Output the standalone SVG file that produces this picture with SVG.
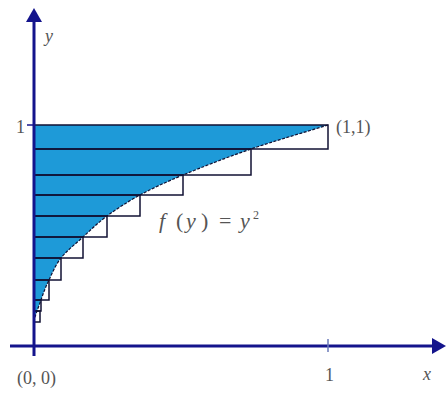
<svg xmlns="http://www.w3.org/2000/svg" width="447" height="393" viewBox="0 0 447 393">
<style>
.rect{fill:none;stroke:#111133;stroke-width:1.5}
.axis{stroke:#14148c;stroke-width:3;fill:none}
.lbl{font-family:'Liberation Serif','Times New Roman',serif;font-size:18px;fill:#555}
.it{font-style:italic}
</style>
<rect width="447" height="393" fill="#fff"/>
<g id="region">
<path d="M34,125 L328,125 C302.33,133 275.17,140.67 251,149 C226.83,157.33 201.5,167.33 183,175 C164.5,182.67 152.67,188.17 140,195 C127.33,201.83 116.5,209 107,216 C97.5,223 90.67,230 83,237 C75.33,244 66.67,250.83 61,258 C55.33,265.17 52.33,273 49,280 C45.67,287 43.33,293 41,300 C38.67,307 35,315 34,322 Z" fill="#1e9ad8"/>
<path d="M328,125 C302.33,133 275.17,140.67 251,149 C226.83,157.33 201.5,167.33 183,175 C164.5,182.67 152.67,188.17 140,195 C127.33,201.83 116.5,209 107,216 C97.5,223 90.67,230 83,237 C75.33,244 66.67,250.83 61,258 C55.33,265.17 52.33,273 49,280 C45.67,287 43.33,293 41,300 C38.67,307 35,315 34,322" fill="none" stroke="#111133" stroke-width="1.2" stroke-dasharray="3,1.5"/>
</g>
<g id="rectangles">
<rect class="rect" x="34" y="125" width="294" height="24"/>
<rect class="rect" x="34" y="149" width="217" height="26"/>
<rect class="rect" x="34" y="175" width="149" height="20"/>
<rect class="rect" x="34" y="195" width="106" height="21"/>
<rect class="rect" x="34" y="216" width="73" height="21"/>
<rect class="rect" x="34" y="237" width="49" height="21"/>
<rect class="rect" x="34" y="258" width="27" height="22"/>
<rect class="rect" x="34" y="280" width="15" height="20"/>
<rect class="rect" x="34" y="300" width="7" height="11"/>
<rect class="rect" x="34" y="311" width="6" height="11"/>
</g>
<g id="axes">
<line class="axis" x1="34" y1="356" x2="34" y2="20"/>
<polygon points="34,8 26,22 42,22" fill="#14148c"/>
<line class="axis" x1="10" y1="346" x2="434" y2="346"/>
<polygon points="446,346 432,338 432,354" fill="#14148c"/>
<line x1="328" y1="339" x2="328" y2="352" stroke="#6a7ab8" stroke-width="1.5"/>
<line x1="27" y1="125" x2="34" y2="125" stroke="#14148c" stroke-width="1.5"/>
</g>
<g id="labels" font-family="'Liberation Serif', serif">
<text class="lbl it" x="45" y="42">y</text>
<text class="lbl" x="16" y="133">1</text>
<text class="lbl" x="336" y="133">(1,1)</text>
<text class="lbl" y="228" style="font-size:22px"><tspan class="it" x="159">f</tspan><tspan x="176">(</tspan><tspan class="it" x="186">y</tspan><tspan x="201">)</tspan><tspan x="219">=</tspan><tspan class="it" x="240">y</tspan><tspan style="font-size:12px" x="253" y="219">2</tspan></text>
<text class="lbl" x="17" y="384">(0, 0)</text>
<text class="lbl" x="325" y="381">1</text>
<text class="lbl it" x="423" y="380">x</text>
</g>
</svg>
